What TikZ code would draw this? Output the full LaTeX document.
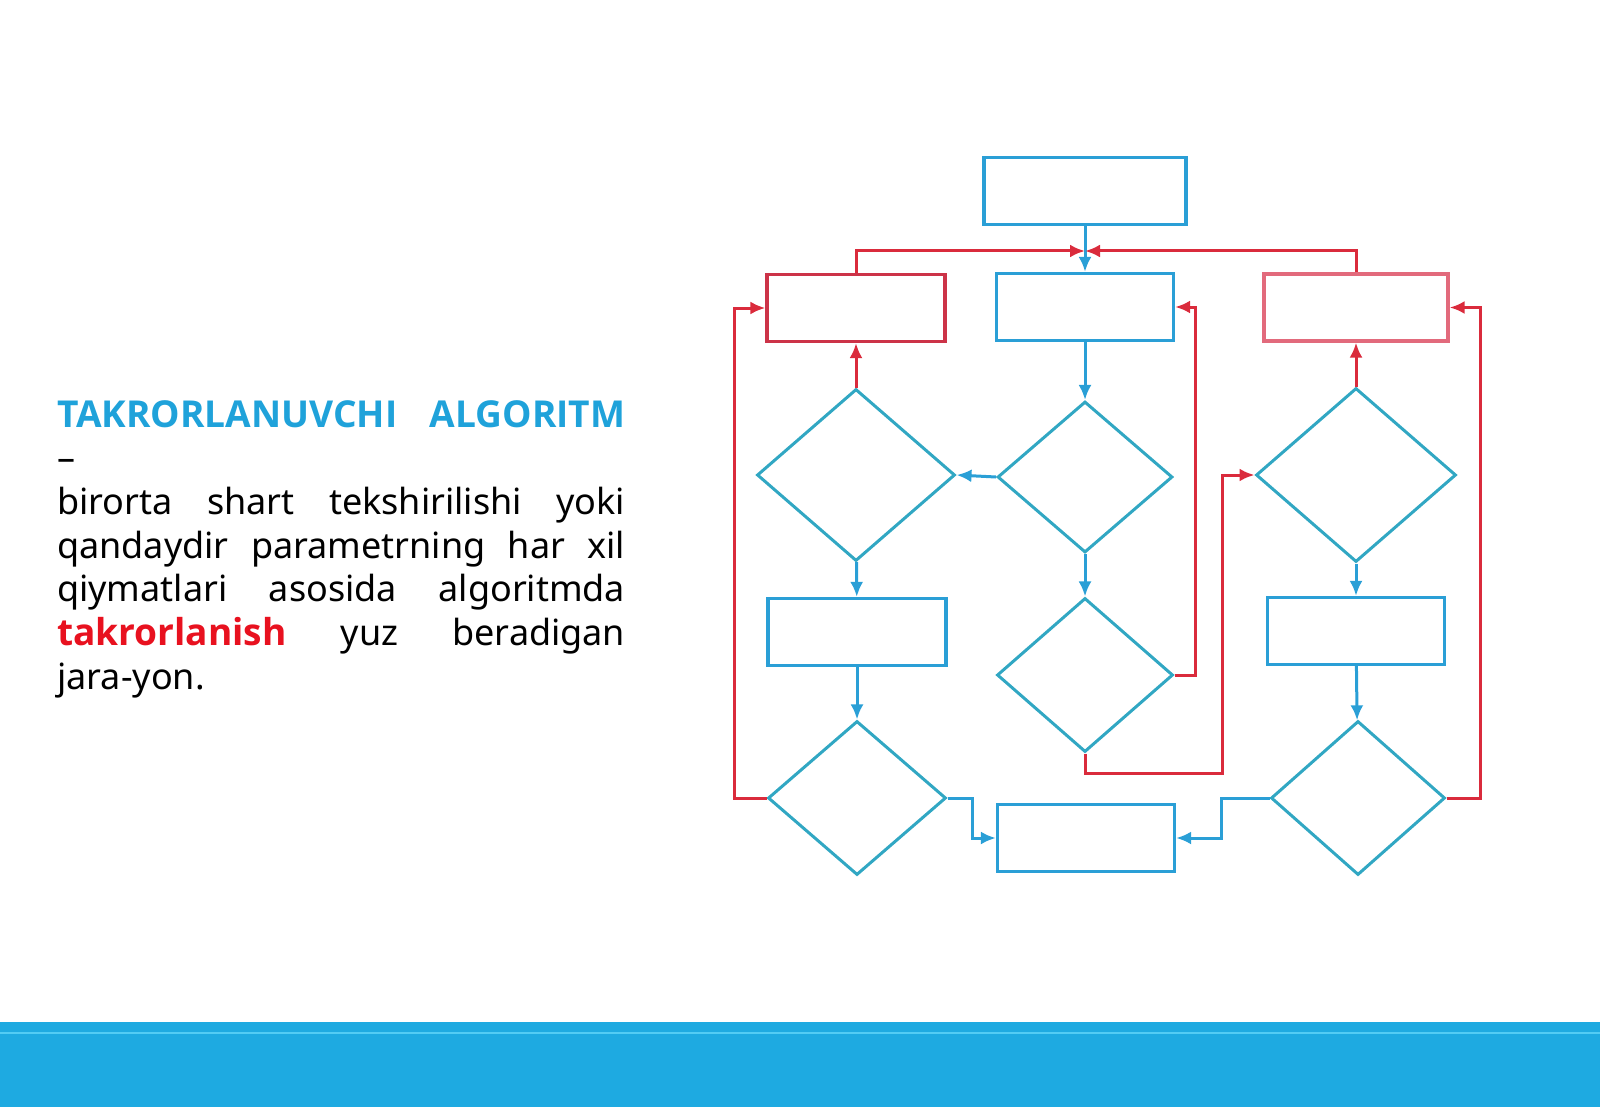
\documentclass[tikz,border=0pt]{standalone}
\usepackage{fontspec}
\setmainfont{Noto Sans}
\newfontfamily\heavyfont{Open Sans}[Scale=1.03]
\usetikzlibrary{shapes.geometric,arrows.meta}
\definecolor{boxblue}{HTML}{2A9FD6}
\definecolor{diablue}{HTML}{31A7C3}
\definecolor{loopred}{HTML}{DA2B3C}
\definecolor{darkred}{HTML}{CC3348}
\definecolor{pinkred}{HTML}{E26A7C}
\definecolor{titleblue}{HTML}{1FA2DA}
\definecolor{wordred}{HTML}{E8111F}
\definecolor{barblue}{HTML}{1EAAE1}
\definecolor{barlight}{HTML}{52CCF4}
\tikzset{
  blockbox/.style={draw=boxblue,line width=3.2pt,minimum width=#1,minimum height=67pt,inner sep=0pt},
  redbox/.style={blockbox=#1,draw=darkred},
  testdia/.style={diamond,draw=diablue,line width=3pt,inner sep=0pt},
  flowline/.style={draw=boxblue,line width=3pt,-{Latex[length=15pt,width=13pt]}},
  loopline/.style={draw=loopred,line width=3pt,-{Latex[length=15pt,width=13pt]}}
}
\begin{document}
\begin{tikzpicture}[x=1pt,y=-1pt]
\useasboundingbox (0,0) rectangle (1600,1107);
% bottom bar
\fill[barblue] (0,1022) rectangle (1600,1107);
\draw[line width=2pt,barlight] (0,1033) -- (1600,1033);

% text
\node[anchor=north west,inner sep=0pt,text width=568pt,align=justify,
      font=\fontsize{36}{43.7}\selectfont] (defn) at (57,400)
  {{\color{titleblue}\heavyfont\bfseries TAKRORLANUVCHI ALGORITM}\linebreak
   \mbox{--}\par
   birorta shart tekshirilishi yoki\linebreak
   qandaydir parametrning har xil\linebreak
   qiymatlari asosida algoritmda\linebreak
   {\color{wordred}\heavyfont\bfseries takrorlanish} yuz beradigan\linebreak
   jara-yon.};

% blocks
\node[blockbox=202pt] (start) at (1085,191) {};
\node[redbox=178pt] (lbox) at (856,308) {};
\node[blockbox=177pt] (mbox) at (1085,307) {};
\node[redbox=184pt,draw=pinkred] (rbox) at (1356,307.5) {};
\node[testdia,minimum width=198pt,minimum height=172pt] (ldia) at (856,475) {};
\node[testdia,minimum width=175pt,minimum height=151pt] (mdia) at (1085,477) {};
\node[testdia,minimum width=200pt,minimum height=174pt] (rdia) at (1356,475) {};
\node[blockbox=178pt] (lbox2) at (857,632) {};
\node[testdia,minimum width=176pt,minimum height=154pt] (mdia2) at (1085,675) {};
\node[blockbox=177pt] (rbox2) at (1356,631) {};
\node[testdia,minimum width=178pt,minimum height=154pt] (ldia2) at (857,798) {};
\node[testdia,minimum width=174pt,minimum height=154pt] (rdia2) at (1358,798) {};
\node[blockbox=177pt] (endbox) at (1086,838) {};
\coordinate (join) at (1085,251);

% forward flow
\draw[flowline] (start) -- (mbox);
\draw[flowline] (mbox) -- (mdia);
\draw[flowline] (mdia) -- (mdia2);
\draw[flowline] (mdia.west) -- (ldia.east);
\draw[flowline] (ldia) -- (lbox2);
\draw[flowline] (lbox2) -- (ldia2);
\draw[flowline] (rdia) -- (rbox2);
\draw[flowline] (rbox2) -- (rdia2);
\draw[flowline] (ldia2.east) -- ++(25,0) |- (endbox.west);
\draw[flowline] (rdia2.west) -- ++(-48,0) |- (endbox.east);

% loops
\draw[loopline] (lbox.north) |- (join);
\draw[loopline] (rbox.north) |- (join);
\draw[loopline] (ldia.north) -- (lbox.south);
\draw[loopline] (rdia.north) -- (rbox.south);
\draw[loopline] (ldia2.west) -- ++(-32,0) |- (lbox.west);
\draw[loopline] (rdia2.east) -- ++(34,0) |- (rbox.east);
\draw[loopline] (mdia2.east) -- ++(21,0) |- (mbox.east);
\draw[loopline] (mdia2.south) -- ++(0,20) -- ++(137,0) |- (rdia.west);
\end{tikzpicture}
\end{document}
